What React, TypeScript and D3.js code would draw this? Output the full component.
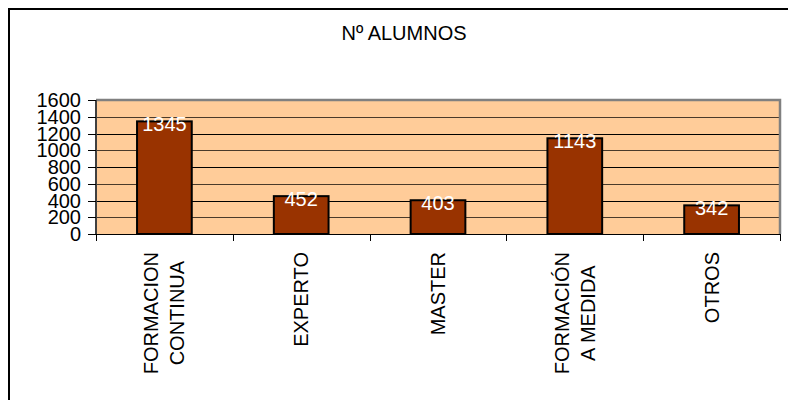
import React, { useEffect, useRef } from "react";
import * as d3 from "d3";

const categories: string[][] = [
  ["FORMACION", "CONTINUA"],
  ["EXPERTO"],
  ["MASTER"],
  ["FORMACIÓN", "A MEDIDA"],
  ["OTROS"],
];
const values: number[] = [1345, 452, 403, 1143, 342];
const yTicks: number[] = [0, 200, 400, 600, 800, 1000, 1200, 1400, 1600];
const title = "Nº ALUMNOS";

const W = 788;
const H = 400;
const FONT = "Arial, 'Liberation Sans', sans-serif";

export default function App() {
  const ref = useRef<SVGSVGElement | null>(null);

  useEffect(() => {
    const svg = d3.select(ref.current);
    svg.selectAll("*").remove();

    const left = 96, right = 780, top = 100, bottom = 234;

    const x = d3
      .scaleBand<number>()
      .domain(values.map((_, i) => i))
      .range([left, right])
      .paddingInner(0.6)
      .paddingOuter(0.3);
    const y = d3.scaleLinear().domain([0, 1600]).range([bottom, top]);

    // outer chart border
    svg
      .append("rect")
      .attr("x", 9)
      .attr("y", 9)
      .attr("width", 800)
      .attr("height", 500)
      .attr("fill", "#fff")
      .attr("stroke", "#000")
      .attr("stroke-width", 2);

    // title
    svg
      .append("text")
      .attr("x", 404)
      .attr("y", 40)
      .attr("text-anchor", "middle")
      .attr("font-family", FONT)
      .attr("font-size", 20)
      .attr("fill", "#000")
      .text(title);

    // plot background
    svg
      .append("rect")
      .attr("x", left)
      .attr("y", top)
      .attr("width", right - left)
      .attr("height", bottom - top)
      .attr("fill", "#FFCC99");

    // gridlines
    svg
      .append("g")
      .selectAll("line")
      .data(yTicks.filter((t) => t > 0 && t < 1600))
      .join("line")
      .attr("x1", left)
      .attr("x2", right)
      .attr("y1", (d) => Math.round(y(d)) + 0.5)
      .attr("y2", (d) => Math.round(y(d)) + 0.5)
      .attr("stroke", (d, i) => (i % 2 === 0 ? "#4a3a2a" : "#000"))
      .attr("stroke-width", 1.2);

    // plot border (top/right gray)
    svg
      .append("path")
      .attr("d", `M${left},${top} H${right} V${bottom}`)
      .attr("fill", "none")
      .attr("stroke", "#808080")
      .attr("stroke-width", 2.5);
    svg
      .append("line")
      .attr("x1", left)
      .attr("x2", left)
      .attr("y1", top)
      .attr("y2", bottom)
      .attr("stroke", "#808080")
      .attr("stroke-width", 2);

    // bars
    svg
      .append("g")
      .selectAll("rect")
      .data(values)
      .join("rect")
      .attr("x", (_, i) => x(i)!)
      .attr("y", (d) => y(d))
      .attr("width", x.bandwidth())
      .attr("height", (d) => bottom - y(d))
      .attr("fill", "#993300")
      .attr("stroke", "#000")
      .attr("stroke-width", 2);

    // y axis
    const yAxis = svg.append("g");
    yAxis
      .append("line")
      .attr("x1", left)
      .attr("x2", left)
      .attr("y1", top)
      .attr("y2", bottom)
      .attr("stroke", "#000")
      .attr("stroke-width", 1);
    yAxis
      .selectAll("line.tick")
      .data(yTicks)
      .join("line")
      .attr("class", "tick")
      .attr("x1", left - 8)
      .attr("x2", left)
      .attr("y1", (d) => Math.round(y(d)) + 0.5)
      .attr("y2", (d) => Math.round(y(d)) + 0.5)
      .attr("stroke", "#000");
    yAxis
      .selectAll("text")
      .data(yTicks)
      .join("text")
      .attr("x", 81)
      .attr("y", (d) => y(d) + 7)
      .attr("text-anchor", "end")
      .attr("font-family", FONT)
      .attr("font-size", 20)
      .attr("fill", "#000")
      .text((d) => String(d));

    // x axis
    const xAxis = svg.append("g");
    xAxis
      .append("line")
      .attr("x1", left)
      .attr("x2", right)
      .attr("y1", bottom + 0.5)
      .attr("y2", bottom + 0.5)
      .attr("stroke", "#000");
    const bounds = d3.range(values.length + 1).map((i) => left + ((right - left) / values.length) * i);
    xAxis
      .selectAll("line.tick")
      .data(bounds)
      .join("line")
      .attr("class", "tick")
      .attr("x1", (d) => Math.round(d) + 0.5)
      .attr("x2", (d) => Math.round(d) + 0.5)
      .attr("y1", bottom)
      .attr("y2", bottom + 7)
      .attr("stroke", "#000");

    // category labels (rotated)
    const lineGap = 26;
    categories.forEach((lines, i) => {
      const cx = x(i)! + x.bandwidth() / 2;
      const g = xAxis.append("g");
      const texts = lines.map((ln, j) =>
        g
          .append("text")
          .attr("font-family", FONT)
          .attr("font-size", 20)
          .attr("fill", "#000")
          .attr("text-anchor", "middle")
          .text(ln)
      );
      const lens = texts.map((t) => (t.node() as SVGTextElement).getComputedTextLength());
      const maxLen = Math.max(...lens);
      const cy = bottom + 18 + maxLen / 2;
      texts.forEach((t, j) => {
        const lx = cx + (j - (lines.length - 1) / 2) * lineGap + 7;
        t.attr("transform", `translate(${lx},${cy}) rotate(-90)`);
      });
    });

    // value labels
    svg
      .append("g")
      .selectAll("text")
      .data(values)
      .join("text")
      .attr("x", (_, i) => x(i)! + x.bandwidth() / 2)
      .attr("y", (d) => y(d) + 10)
      .attr("text-anchor", "middle")
      .attr("font-family", FONT)
      .attr("font-size", 20)
      .attr("fill", "#fff")
      .text((d) => String(d));
  }, []);

  return (
    <svg
      ref={ref}
      width={W}
      height={H}
      style={{ position: "absolute", left: 0, top: 0, background: "#fff" }}
    />
  );
}
